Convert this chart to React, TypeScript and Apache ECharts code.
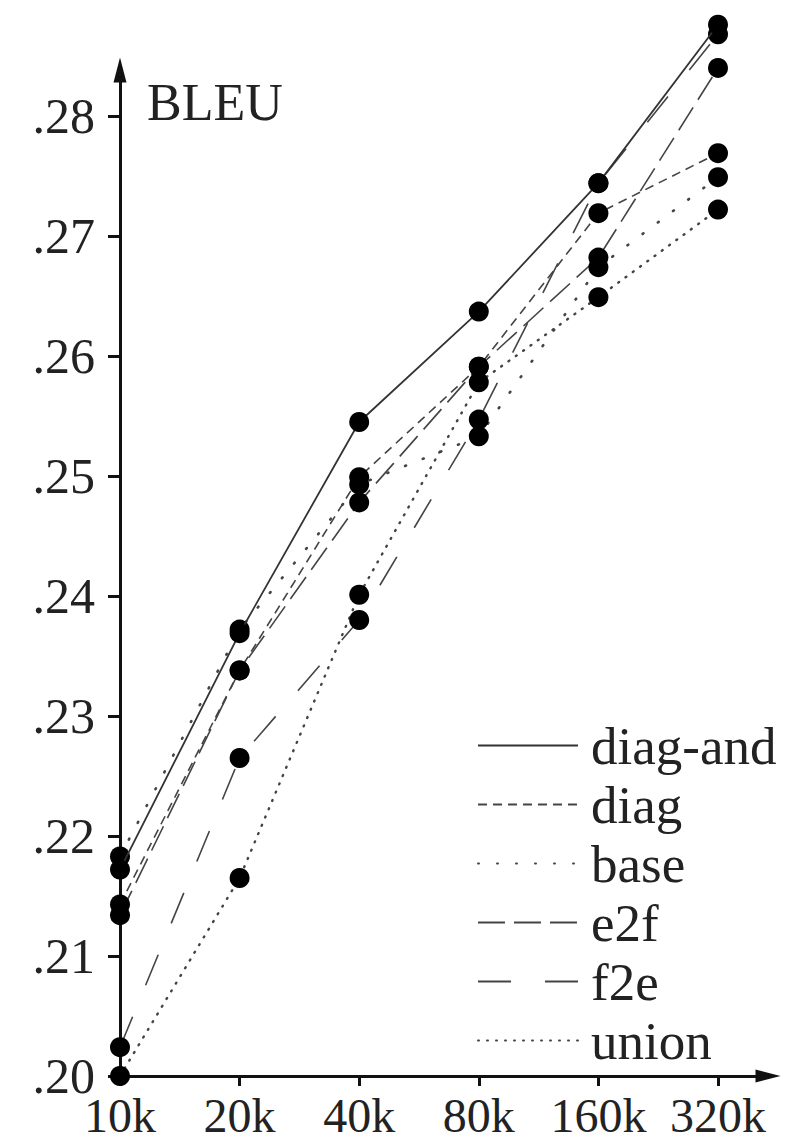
import React, { useEffect, useRef } from 'react';
import * as echarts from 'echarts';

// ---- data ----
const categories = ['10k', '20k', '40k', '80k', '160k', '320k'];
const seriesNames = ['diag-and', 'diag', 'base', 'e2f', 'f2e', 'union'];
const diagAnd = [0.2172, 0.2369, 0.2545, 0.2637, 0.2744, 0.2876];
const diag = [0.2143, 0.2338, 0.2499, 0.2591, 0.2719, 0.2769];
const base = [0.2183, 0.2372, 0.2493, 0.2533, 0.2674, 0.2749];
const e2f = [0.2134, 0.2338, 0.2478, 0.2591, 0.2682, 0.2840];
const f2e = [0.2024, 0.2265, 0.2380, 0.2547, 0.2744, 0.2868];
const union = [0.2000, 0.2165, 0.2401, 0.2578, 0.2649, 0.2722];
const yTicks = [0.20, 0.21, 0.22, 0.23, 0.24, 0.25, 0.26, 0.27, 0.28];
const xTicks = [0, 1, 2, 3, 4, 5];

const FONT = '"Liberation Serif", "DejaVu Serif", serif';
const X_MAX = 5.418;
const Y_MIN = 0.2;
const Y_MAX = 0.28383;

const styles: Record<string, { type: any; width: number; color: string; cap: string }> = {
  'diag-and': { type: 'solid', width: 1.8, color: '#333', cap: 'butt' },
  diag: { type: [9, 6], width: 1.6, color: '#444', cap: 'butt' },
  base: { type: [1, 18], width: 2.6, color: '#444', cap: 'round' },
  e2f: { type: [27, 9], width: 1.6, color: '#444', cap: 'butt' },
  f2e: { type: [33, 34], width: 1.6, color: '#444', cap: 'butt' },
  union: { type: [1, 8], width: 2.4, color: '#444', cap: 'round' },
};

const valuesByName: Record<string, number[]> = {
  'diag-and': diagAnd,
  diag,
  base,
  e2f,
  f2e,
  union,
};

export default function App() {
  const ref = useRef<HTMLDivElement>(null);

  useEffect(() => {
    if (!ref.current) return;
    const chart = echarts.init(ref.current, null, { renderer: 'svg' });

    const series = seriesNames.map((name) => {
      const s = styles[name];
      return {
        name,
        type: 'line',
        data: valuesByName[name].map((v, i) => [i, v]),
        symbol: 'circle',
        symbolSize: 20,
        clip: false,
        itemStyle: { color: '#000' },
        lineStyle: { color: s.color, width: s.width, type: s.type, cap: s.cap },
        emphasis: { disabled: true },
        z: name === 'diag-and' ? 3 : 2,
      };
    });

    chart.setOption({
      animation: false,
      backgroundColor: '#fff',
      title: {
        text: 'BLEU',
        left: 147,
        top: 76,
        padding: 0,
        textStyle: { fontSize: 52, fontWeight: 'normal', fontFamily: FONT, color: '#222' },
      },
      legend: {
        orient: 'vertical',
        left: 477,
        top: 719,
        padding: 0,
        itemWidth: 100,
        itemHeight: 20,
        itemGap: 6,
        selectedMode: false,
        data: seriesNames,
        itemStyle: { opacity: 0 },
        textStyle: {
          fontSize: 53,
          fontFamily: FONT,
          color: '#222',
          lineHeight: 52,
          padding: [0, 0, 0, 8],
        },
      },
      grid: { left: 120, top: 70, width: 648, height: 1006 },
      xAxis: {
        type: 'value',
        min: 0,
        max: X_MAX,
        splitLine: { show: false },
        axisLine: {
          show: true,
          onZero: false,
          symbol: ['none', 'triangle'],
          symbolSize: [13, 25],
          lineStyle: { color: '#111', width: 3 },
        },
        axisTick: {
          show: true,
          customValues: xTicks,
          length: 10,
          lineStyle: { color: '#111', width: 3 },
        },
        axisLabel: {
          customValues: xTicks,
          formatter: (v: number) => categories[Math.round(v)] ?? '',
          margin: 15,
          fontSize: 48,
          lineHeight: 48,
          fontFamily: FONT,
          color: '#222',
        },
      },
      yAxis: {
        type: 'value',
        min: Y_MIN,
        max: Y_MAX,
        splitLine: { show: false },
        axisLine: {
          show: true,
          onZero: false,
          symbol: ['none', 'triangle'],
          symbolSize: [13, 25],
          lineStyle: { color: '#111', width: 3 },
        },
        axisTick: {
          show: true,
          customValues: yTicks,
          length: 12,
          lineStyle: { color: '#111', width: 3 },
        },
        axisLabel: {
          customValues: yTicks,
          formatter: (v: number) => '.' + Math.round(v * 100),
          margin: 25,
          fontSize: 50,
          fontFamily: FONT,
          color: '#222',
        },
      },
      series,
    });

    return () => chart.dispose();
  }, []);

  return (
    <div
      ref={ref}
      style={{ position: 'absolute', left: 0, top: 0, width: 794, height: 1142, background: '#fff' }}
    />
  );
}
